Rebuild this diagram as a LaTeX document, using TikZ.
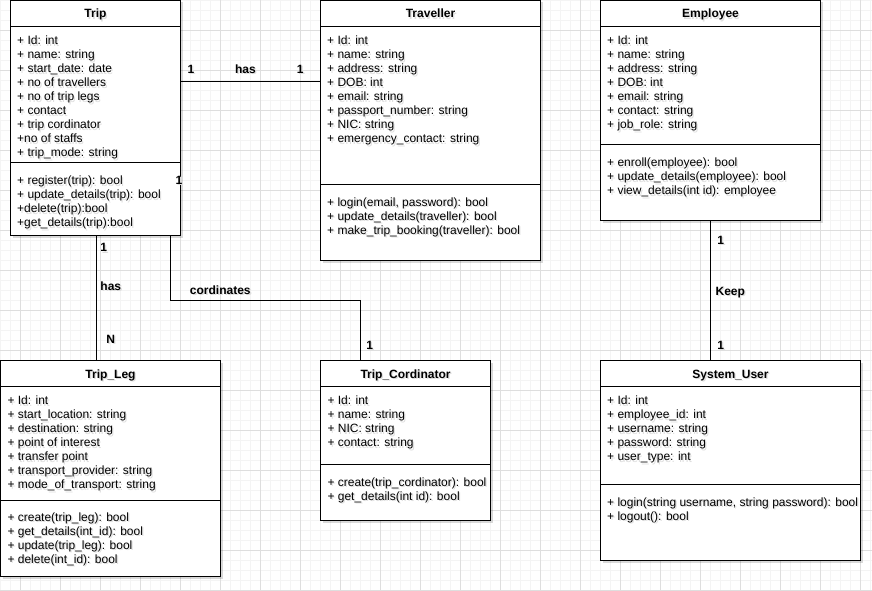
\documentclass[tikz,border=0pt]{standalone}
\usepackage{fontspec}
\setmainfont{Liberation Sans}
\usetikzlibrary{shadows}

\definecolor{minorgrid}{HTML}{F4F4F4}
\definecolor{majorgrid}{HTML}{DEDEDE}

% text with a soft grey shadow beneath it
\newcommand{\shd}[1]{\rlap{\kern1.3pt\raisebox{-1.6pt}{\color{black!13}#1}}#1}

\tikzset{
  classbox/.style={draw=black, line width=1pt, fill=white, inner sep=0pt,
    outer sep=0pt, anchor=north west,
    drop shadow={shadow xshift=2pt, shadow yshift=-2pt, opacity=0.15, fill=black}},
  divider/.style={draw=black, line width=1pt},
  title/.style={anchor=base, inner sep=0pt, font=\fontsize{12}{14}\selectfont\bfseries},
  member/.style={anchor=base west, inner sep=0pt, font=\fontsize{12}{14}\selectfont},
  assoc/.style={draw=black, line width=1pt},
  mult/.style={anchor=base, inner sep=0pt, font=\fontsize{12}{14}\selectfont\bfseries},
  gridminor/.style={draw=minorgrid, line width=0.7pt},
  gridmajor/.style={draw=majorgrid, line width=0.7pt},
}

\begin{document}
\begin{tikzpicture}[x=1pt, y=-1pt]
\useasboundingbox (0,0) rectangle (872,591);
\fill[white] (0,0) rectangle (872,591);

% background grid
\foreach \gx in {0,10,...,870} \draw[gridminor] (\gx,0) -- (\gx,591);
\foreach \gy in {0,10,...,590} \draw[gridminor] (0,\gy) -- (872,\gy);
\foreach \gx in {20,60,...,860} \draw[gridmajor] (\gx,0) -- (\gx,591);
\foreach \gy in {30,70,...,590} \draw[gridmajor] (0,\gy) -- (872,\gy);

% ---------- class frames ----------
\node[classbox, minimum width=170pt, minimum height=235pt] (trip) at (10.5,0.5) {};
\node[classbox, minimum width=220pt, minimum height=260pt] (traveller) at (320.5,0.5) {};
\node[classbox, minimum width=220pt, minimum height=220pt] (employee) at (600.5,0.5) {};
\node[classbox, minimum width=220pt, minimum height=216pt] (tripleg) at (0.5,360.5) {};
\node[classbox, minimum width=170pt, minimum height=160pt] (coord) at (320.5,360.5) {};
\node[classbox, minimum width=260pt, minimum height=200pt] (sysuser) at (600.5,360.5) {};

% compartment dividers
\foreach \c/\h/\s in {trip/26/162, traveller/26/184, employee/26/144,
                      tripleg/26/140, coord/26/104, sysuser/26/124} {
  \draw[divider] ([yshift=-\h pt]\c.north west) -- ([yshift=-\h pt]\c.north east);
  \draw[divider] ([yshift=-\s pt]\c.north west) -- ([yshift=-\s pt]\c.north east);
}

% ---------- associations ----------
\draw[assoc] (trip.north east) ++(0,81) coordinate (tt) -- (tt -| traveller.west);
\draw[assoc] (trip.south west) ++(85.5,0) coordinate (tl) -- (tl |- tripleg.north);
\draw[assoc] (trip.south west) ++(160,0) coordinate (tc1) -- ++(0,64.5) coordinate (tc2)
  -- (tc2 -| coord.north west) ++(40,0) coordinate (tc3);
\draw[assoc] (tc2) -- (tc3) -- (tc3 |- coord.north);
\draw[assoc] (employee.south west) ++(110,0) coordinate (es) -- (es |- sysuser.north);

\node[mult] (m1) at (191,73.3) {\shd{1}};
\node[mult] (m2) at (245.5,73.3) {\shd{has}};
\node[mult] (m3) at (300.3,73.3) {\shd{1}};
\node[mult] (m4) at (179,184) {\shd{1}};
\node[mult] (m5) at (103.8,251.5) {\shd{1}};
\node[mult] (m6) at (110.8,290) {\shd{has}};
\node[mult] (m7) at (110.7,343.3) {\shd{N}};
\node[mult] (m8) at (220.3,294) {\shd{cordinates}};
\node[mult] (m9) at (369.7,349) {\shd{1}};
\node[mult] (m10) at (720.8,244) {\shd{1}};
\node[mult] (m11) at (730.3,295) {\shd{Keep}};
\node[mult] (m12) at (720.8,349) {\shd{1}};

% ---------- Trip ----------
\node[title] (trip-t) at (95.5,18) {\shd{Trip}};
\foreach \txt [count=\i] in {+ Id: int, + name: string, + start\_date: date,
    + no of travellers, + no of trip legs, + contact, + trip cordinator,
    +no of staffs, + trip\_mode: string}
  \node[member] (trip-a\i) at (17,44.5+14*\i-14) {\shd{\txt}};
\foreach \txt [count=\i] in {+ register(trip): bool, + update\_details(trip): bool,
    +delete(trip):bool, +get\_details(trip):bool}
  \node[member] (trip-m\i) at (17,184.5+14*\i-14) {\shd{\txt}};

% ---------- Traveller ----------
\node[title] (traveller-t) at (430.5,18) {\shd{Traveller}};
\foreach \txt [count=\i] in {+ Id: int, + name: string, + address: string,
    + DOB: int, + email: string, + passport\_number: string, + NIC: string,
    + emergency\_contact: string}
  \node[member] (traveller-a\i) at (327,44.5+14*\i-14) {\shd{\txt}};
\foreach \txt [count=\i] in {{+ login(email, password): bool},
    + update\_details(traveller): bool, + make\_trip\_booking(traveller): bool}
  \node[member] (traveller-m\i) at (327,206+14*\i-14) {\shd{\txt}};

% ---------- Employee ----------
\node[title] (employee-t) at (710.5,18) {\shd{Employee}};
\foreach \txt [count=\i] in {+ Id: int, + name: string, + address: string,
    + DOB: int, + email: string, + contact: string, + job\_role: string}
  \node[member] (employee-a\i) at (607,44.5+14*\i-14) {\shd{\txt}};
\foreach \txt [count=\i] in {+ enroll(employee): bool,
    + update\_details(employee): bool, + view\_details(int id): employee}
  \node[member] (employee-m\i) at (607,166.8+14*\i-14) {\shd{\txt}};

% ---------- Trip_Leg ----------
\node[title] (tripleg-t) at (110.5,378) {\shd{Trip\_Leg}};
\foreach \txt [count=\i] in {+ Id: int, + start\_location: string,
    + destination: string, + point of interest, + transfer point,
    + transport\_provider: string, + mode\_of\_transport: string}
  \node[member] (tripleg-a\i) at (7.3,404.5+14*\i-14) {\shd{\txt}};
\foreach \txt [count=\i] in {+ create(trip\_leg): bool,
    + get\_details(int\_id): bool, + update(trip\_leg): bool,
    + delete(int\_id): bool}
  \node[member] (tripleg-m\i) at (7.3,521+14*\i-14) {\shd{\txt}};

% ---------- Trip_Cordinator ----------
\node[title] (coord-t) at (405.5,378) {\shd{Trip\_Cordinator}};
\foreach \txt [count=\i] in {+ Id: int, + name: string, + NIC: string,
    + contact: string}
  \node[member] (coord-a\i) at (327.3,404.5+14*\i-14) {\shd{\txt}};
\foreach \txt [count=\i] in {+ create(trip\_cordinator): bool,
    + get\_details(int id): bool}
  \node[member] (coord-m\i) at (327.3,486+14*\i-14) {\shd{\txt}};

% ---------- System_User ----------
\node[title] (sysuser-t) at (730.5,378) {\shd{System\_User}};
\foreach \txt [count=\i] in {+ Id: int, + employee\_id: int,
    + username: string, + password: string, + user\_type: int}
  \node[member] (sysuser-a\i) at (607,404.5+14*\i-14) {\shd{\txt}};
\foreach \txt [count=\i] in {{+ login(string username, string password): bool},
    + logout(): bool}
  \node[member] (sysuser-m\i) at (607,506+14*\i-14) {\shd{\txt}};
\end{tikzpicture}
\end{document}
